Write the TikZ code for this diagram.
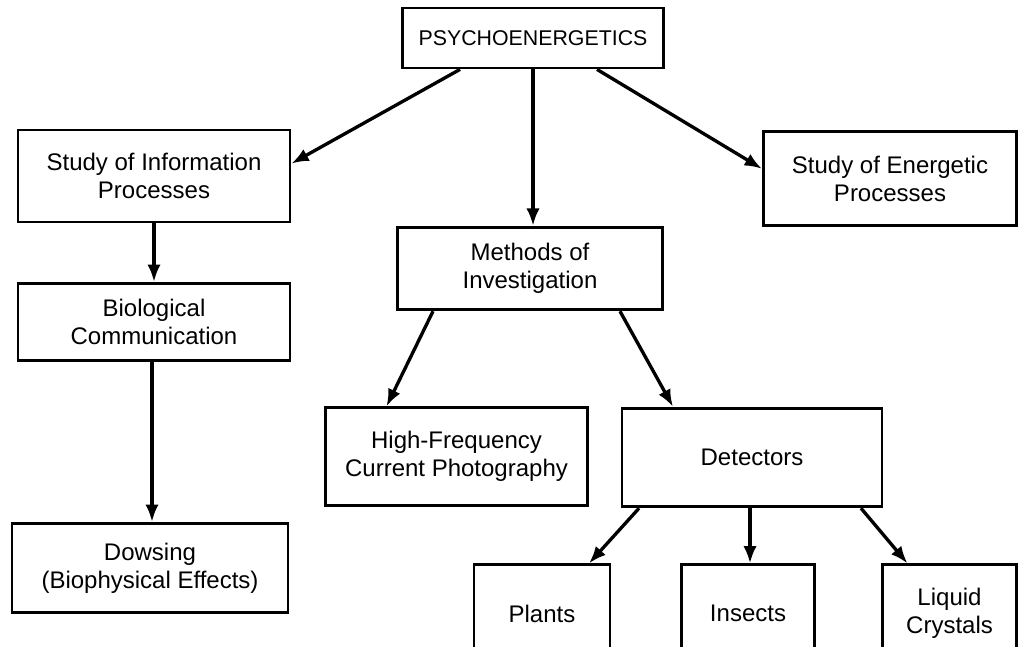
\documentclass[tikz,border=0pt]{standalone}
\usepackage{fontspec}
\setmainfont{Liberation Sans}
\usetikzlibrary{arrows.meta, positioning, calc}

\begin{document}
\begin{tikzpicture}[
    x=0.75pt, y=-0.75pt,
    box/.style={draw, line width=2.1pt, align=center, inner sep=0pt, font=\fontsize{18}{21}\selectfont},
    arr/.style={-{Latex[length=13pt, width=10pt]}, line width=2.5pt}
]
\useasboundingbox (0,0) rectangle (1019,646);
\clip (0,0) rectangle (1019,646);

\node[box, minimum width=196pt, minimum height=45pt, font=\fontsize{16}{19}\selectfont] (psy) at (533,38) {PSYCHOENERGETICS};
\node[box, minimum width=204pt, minimum height=69pt] (info) at (154,176) {Study of Information\\Processes};
\node[box, minimum width=190pt, minimum height=71pt] (energy) at (890,178.5) {Study of Energetic\\Processes};
\node[box, minimum width=199pt, minimum height=62pt] (methods) at (530,268.5) {Methods of\\Investigation};
\node[box, minimum width=204pt, minimum height=58pt] (bio) at (154,322) {Biological\\Communication};
\node[box, minimum width=207pt, minimum height=67pt] (dowsing) at (150,568) {Dowsing\\(Biophysical Effects)};
\node[box, minimum width=197pt, minimum height=73pt] (hfphoto) at (456.5,456.5) {High-Frequency\\Current Photography};
\node[box, minimum width=195pt, minimum height=74pt] (detect) at (752,457.5) {Detectors};
\node[box, minimum width=102pt, minimum height=73pt] (plants) at (542,613.5) {Plants};
\node[box, minimum width=100pt, minimum height=73pt] (insects) at (748,613.5) {Insects};
\node[box, minimum width=101pt, minimum height=73pt] (crystals) at (949.5,613.5) {Liquid\\Crystals};

% top level
\draw[arr] ($(psy.south)+(-73,0)$) -- ($(info.north east)+(0,35)$);
\draw[arr] (psy.south) -- (psy.south |- methods.north);
\draw[arr] ($(psy.south)+(64,0)$) -- ($(energy.north west)+(0,39)$);

% left column
\draw[arr] (info.south) -- (bio.north);
\draw[arr] ($(bio.south)+(-2,0)$) -- ($(bio.south |- dowsing.north)+(-2,0)$);

% methods
\draw[arr] ($(methods.south)+(-97,0)$) -- ($(hfphoto.north)+(-70,0)$);
\draw[arr] ($(methods.south)+(90,0)$) -- ($(detect.north)+(-79,0)$);

% detectors
\draw[arr] ($(detect.south)+(-113,0)$) -- ($(plants.north)+(47,0)$);
\draw[arr] ($(detect.south)+(-2,0)$) -- ($(detect.south |- insects.north)+(-2,0)$);
\draw[arr] ($(detect.south)+(109,0)$) -- ($(crystals.north)+(-42,0)$);
\end{tikzpicture}
\end{document}
